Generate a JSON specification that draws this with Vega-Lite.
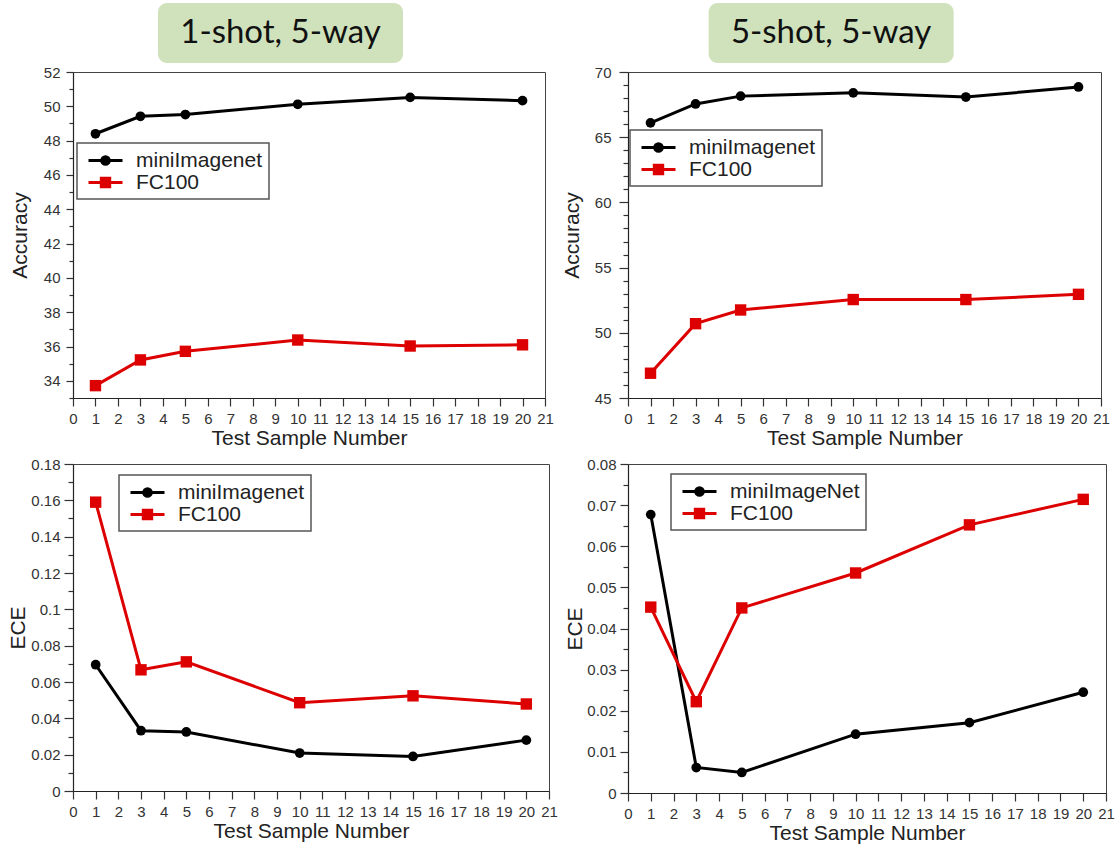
{
  "$schema": "https://vega.github.io/schema/vega-lite/v6.json",
  "background": "#ffffff",
  "padding": {"left": 7, "top": 3, "right": 1, "bottom": 1},
  "config": {
    "font": "Liberation Sans",
    "view": {"stroke": "#444444", "strokeWidth": 1},
    "axis": {
      "grid": false,
      "domainColor": "#222222",
      "domainWidth": 1.2,
      "tickColor": "#333333",
      "tickWidth": 1.2,
      "labelColor": "#333333",
      "labelFont": "Liberation Sans",
      "labelFontSize": 15,
      "titleFont": "Liberation Sans",
      "titleFontSize": 21,
      "titleFontWeight": "normal",
      "titleColor": "#222222",
      "labelFlush": false,
      "labelOverlap": false,
      "labelBound": false
    },
    "legend": {
      "labelFont": "Liberation Sans",
      "labelFontSize": 21,
      "labelColor": "#222222",
      "fillColor": "#ffffff",
      "strokeColor": "#555555",
      "padding": 6,
      "symbolSize": 400,
      "symbolStrokeWidth": 3,
      "symbolOffset": 11,
      "labelOffset": 19,
      "rowPadding": 0
    }
  },
  "datasets": {
    "t1": [{"title": "1-shot, 5-way"}],
    "t5": [{"title": "5-shot, 5-way"}],
    "acc1": [
      {"n": 1, "series": "miniImagenet", "v": 48.4},
      {"n": 3, "series": "miniImagenet", "v": 49.42},
      {"n": 5, "series": "miniImagenet", "v": 49.52},
      {"n": 10, "series": "miniImagenet", "v": 50.12},
      {"n": 15, "series": "miniImagenet", "v": 50.52},
      {"n": 20, "series": "miniImagenet", "v": 50.33},
      {"n": 1, "series": "FC100", "v": 33.72},
      {"n": 3, "series": "FC100", "v": 35.22},
      {"n": 5, "series": "FC100", "v": 35.72},
      {"n": 10, "series": "FC100", "v": 36.38},
      {"n": 15, "series": "FC100", "v": 36.03},
      {"n": 20, "series": "FC100", "v": 36.1}
    ],
    "acc5": [
      {"n": 1, "series": "miniImagenet", "v": 66.1},
      {"n": 3, "series": "miniImagenet", "v": 67.55},
      {"n": 5, "series": "miniImagenet", "v": 68.15},
      {"n": 10, "series": "miniImagenet", "v": 68.4},
      {"n": 15, "series": "miniImagenet", "v": 68.08},
      {"n": 20, "series": "miniImagenet", "v": 68.85},
      {"n": 1, "series": "FC100", "v": 46.9},
      {"n": 3, "series": "FC100", "v": 50.7},
      {"n": 5, "series": "FC100", "v": 51.75},
      {"n": 10, "series": "FC100", "v": 52.55},
      {"n": 15, "series": "FC100", "v": 52.55},
      {"n": 20, "series": "FC100", "v": 52.95}
    ],
    "ece1": [
      {"n": 1, "series": "miniImagenet", "v": 0.0695},
      {"n": 3, "series": "miniImagenet", "v": 0.0332},
      {"n": 5, "series": "miniImagenet", "v": 0.0325},
      {"n": 10, "series": "miniImagenet", "v": 0.0209},
      {"n": 15, "series": "miniImagenet", "v": 0.019},
      {"n": 20, "series": "miniImagenet", "v": 0.028},
      {"n": 1, "series": "FC100", "v": 0.159},
      {"n": 3, "series": "FC100", "v": 0.0667},
      {"n": 5, "series": "FC100", "v": 0.0711},
      {"n": 10, "series": "FC100", "v": 0.0486},
      {"n": 15, "series": "FC100", "v": 0.0524},
      {"n": 20, "series": "FC100", "v": 0.0479}
    ],
    "ece5": [
      {"n": 1, "series": "miniImageNet", "v": 0.0677},
      {"n": 3, "series": "miniImageNet", "v": 0.0062},
      {"n": 5, "series": "miniImageNet", "v": 0.005},
      {"n": 10, "series": "miniImageNet", "v": 0.0143},
      {"n": 15, "series": "miniImageNet", "v": 0.0171},
      {"n": 20, "series": "miniImageNet", "v": 0.0245},
      {"n": 1, "series": "FC100", "v": 0.0452},
      {"n": 3, "series": "FC100", "v": 0.0222},
      {"n": 5, "series": "FC100", "v": 0.045},
      {"n": 10, "series": "FC100", "v": 0.0535},
      {"n": 15, "series": "FC100", "v": 0.0652},
      {"n": 20, "series": "FC100", "v": 0.0714}
    ]
  },
  "hconcat": [
    {
      "vconcat": [
        {
          "data": {"name": "t1"},
          "width": 472,
          "height": 60,
          "view": {"stroke": null},
          "encoding": {"x": {"field": "title", "type": "nominal", "axis": null, "scale": {"paddingInner": 0, "paddingOuter": 0.4633, "align": 0.3744}}},
          "layer": [
            {"mark": {"type": "rect", "color": "#d0e2bc", "cornerRadius": 9}},
            {"mark": {"type": "text", "font": "Lato", "fontSize": 33, "color": "#111111"}, "encoding": {"text": {"field": "title", "type": "nominal"}}}
          ]
        },
        {
          "vconcat": [
            {
              "data": {"name": "acc1"},
              "width": 472,
              "height": 326,
              "encoding": {
                "x": {"field": "n", "type": "quantitative", "scale": {"domain": [0, 21], "nice": false},
                  "axis": {"values": [0,1,2,3,4,5,6,7,8,9,10,11,12,13,14,15,16,17,18,19,20,21], "format": "d", "title": "Test Sample Number", "tickSize": 8, "labelPadding": 5, "titlePadding": 1}},
                "y": {"field": "v", "type": "quantitative", "scale": {"domain": [33, 52], "nice": false, "zero": false},
                  "axis": {"values": [33,34,35,36,37,38,39,40,41,42,43,44,45,46,47,48,49,50,51,52], "format": "d", "title": "Accuracy",
                    "labelExpr": "datum.value % 2 === 0 ? datum.label : ''",
                    "tickSize": {"condition": {"test": "datum.value % 2 === 0", "value": 7}, "value": 4},
                    "labelPadding": 6, "titlePadding": 13}},
                "color": {"field": "series", "type": "nominal", "scale": {"domain": ["miniImagenet", "FC100"], "range": ["#000000", "#dd0000"]},
                  "legend": {"title": null, "orient": "none", "legendX": 4, "legendY": 71,
                    "encode": {
                      "symbols": {"update": {
                        "shape": {"signal": "datum.value === 'FC100' ? 'M-1.7,0H1.7M-0.42,-0.42H0.42V0.42H-0.42Z' : 'M-1.7,0H1.7M0.38,0A0.38,0.38,0,1,1,-0.38,0A0.38,0.38,0,1,1,0.38,0Z'"},
                        "fill": {"signal": "datum.value === 'FC100' ? '#dd0000' : '#000000'"},
                        "stroke": {"signal": "datum.value === 'FC100' ? '#dd0000' : '#000000'"},
                        "strokeWidth": {"value": 3},
                        "opacity": {"value": 1}}},
                      "legend": {"update": {"strokeWidth": {"value": 1.5}}}}}}
              },
              "layer": [
                {"mark": {"type": "line", "strokeWidth": 3}},
                {"transform": [{"filter": "datum.series === 'FC100'"}], "mark": {"type": "point", "shape": "square", "filled": true, "opacity": 1, "size": 130}},
                {"transform": [{"filter": "datum.series !== 'FC100'"}], "mark": {"type": "point", "shape": "circle", "filled": true, "opacity": 1, "size": 95}}
              ]
            },
            {
              "data": {"name": "ece1"},
              "width": 476,
              "height": 327,
              "encoding": {
                "x": {"field": "n", "type": "quantitative", "scale": {"domain": [0, 21], "nice": false},
                  "axis": {"values": [0,1,2,3,4,5,6,7,8,9,10,11,12,13,14,15,16,17,18,19,20,21], "format": "d", "title": "Test Sample Number", "tickSize": 8, "labelPadding": 5, "titlePadding": 1}},
                "y": {"field": "v", "type": "quantitative", "scale": {"domain": [0, 0.18], "nice": false, "zero": false},
                  "axis": {"values": [0,0.01,0.02,0.03,0.04,0.05,0.06,0.07,0.08,0.09,0.1,0.11,0.12,0.13,0.14,0.15,0.16,0.17,0.18], "format": ".2~f", "title": "ECE",
                    "labelExpr": "round(datum.value * 100) % 2 === 0 ? datum.label : ''",
                    "tickSize": {"condition": {"test": "round(datum.value * 100) % 2 === 0", "value": 9}, "value": 5},
                    "labelPadding": 4, "titlePadding": 2}},
                "color": {"field": "series", "type": "nominal", "scale": {"domain": ["miniImagenet", "FC100"], "range": ["#000000", "#dd0000"]},
                  "legend": {"title": null, "orient": "none", "legendX": 46, "legendY": 11,
                    "encode": {
                      "symbols": {"update": {
                        "shape": {"signal": "datum.value === 'FC100' ? 'M-1.7,0H1.7M-0.42,-0.42H0.42V0.42H-0.42Z' : 'M-1.7,0H1.7M0.38,0A0.38,0.38,0,1,1,-0.38,0A0.38,0.38,0,1,1,0.38,0Z'"},
                        "fill": {"signal": "datum.value === 'FC100' ? '#dd0000' : '#000000'"},
                        "stroke": {"signal": "datum.value === 'FC100' ? '#dd0000' : '#000000'"},
                        "strokeWidth": {"value": 3},
                        "opacity": {"value": 1}}},
                      "legend": {"update": {"strokeWidth": {"value": 1.5}}}}}}
              },
              "layer": [
                {"mark": {"type": "line", "strokeWidth": 3}},
                {"transform": [{"filter": "datum.series === 'FC100'"}], "mark": {"type": "point", "shape": "square", "filled": true, "opacity": 1, "size": 130}},
                {"transform": [{"filter": "datum.series !== 'FC100'"}], "mark": {"type": "point", "shape": "circle", "filled": true, "opacity": 1, "size": 95}}
              ]
            }
          ],
          "spacing": 7,
          "resolve": {"scale": {"x": "independent", "y": "independent", "color": "independent"}, "legend": {"color": "independent"}}
        }
      ],
      "spacing": 1,
      "resolve": {"scale": {"x": "independent", "y": "independent", "color": "independent"}, "legend": {"color": "independent"}}
    },
    {
      "vconcat": [
        {
          "data": {"name": "t5"},
          "width": 473,
          "height": 60,
          "view": {"stroke": null},
          "encoding": {"x": {"field": "title", "type": "nominal", "axis": null, "scale": {"paddingInner": 0, "paddingOuter": 0.4653, "align": 0.3537}}},
          "layer": [
            {"mark": {"type": "rect", "color": "#d0e2bc", "cornerRadius": 9}},
            {"mark": {"type": "text", "font": "Lato", "fontSize": 33, "color": "#111111"}, "encoding": {"text": {"field": "title", "type": "nominal"}}}
          ]
        },
        {
          "vconcat": [
            {
              "data": {"name": "acc5"},
              "width": 473,
              "height": 326,
              "encoding": {
                "x": {"field": "n", "type": "quantitative", "scale": {"domain": [0, 21], "nice": false},
                  "axis": {"values": [0,1,2,3,4,5,6,7,8,9,10,11,12,13,14,15,16,17,18,19,20,21], "format": "d", "title": "Test Sample Number", "tickSize": 8, "labelPadding": 5, "titlePadding": 1}},
                "y": {"field": "v", "type": "quantitative", "scale": {"domain": [45, 70], "nice": false, "zero": false},
                  "axis": {"values": [45,46,47,48,49,50,51,52,53,54,55,56,57,58,59,60,61,62,63,64,65,66,67,68,69,70], "format": "d", "title": "Accuracy",
                    "labelExpr": "datum.value % 5 === 0 ? datum.label : ''",
                    "tickSize": {"condition": {"test": "datum.value % 5 === 0", "value": 9}, "value": 5},
                    "labelPadding": 8, "titlePadding": 12}},
                "color": {"field": "series", "type": "nominal", "scale": {"domain": ["miniImagenet", "FC100"], "range": ["#000000", "#dd0000"]},
                  "legend": {"title": null, "orient": "none", "legendX": 2, "legendY": 58,
                    "encode": {
                      "symbols": {"update": {
                        "shape": {"signal": "datum.value === 'FC100' ? 'M-1.7,0H1.7M-0.42,-0.42H0.42V0.42H-0.42Z' : 'M-1.7,0H1.7M0.38,0A0.38,0.38,0,1,1,-0.38,0A0.38,0.38,0,1,1,0.38,0Z'"},
                        "fill": {"signal": "datum.value === 'FC100' ? '#dd0000' : '#000000'"},
                        "stroke": {"signal": "datum.value === 'FC100' ? '#dd0000' : '#000000'"},
                        "strokeWidth": {"value": 3},
                        "opacity": {"value": 1}}},
                      "legend": {"update": {"strokeWidth": {"value": 1.5}}}}}}
              },
              "layer": [
                {"mark": {"type": "line", "strokeWidth": 3}},
                {"transform": [{"filter": "datum.series === 'FC100'"}], "mark": {"type": "point", "shape": "square", "filled": true, "opacity": 1, "size": 130}},
                {"transform": [{"filter": "datum.series !== 'FC100'"}], "mark": {"type": "point", "shape": "circle", "filled": true, "opacity": 1, "size": 95}}
              ]
            },
            {
              "data": {"name": "ece5"},
              "width": 478,
              "height": 329,
              "encoding": {
                "x": {"field": "n", "type": "quantitative", "scale": {"domain": [0, 21], "nice": false},
                  "axis": {"values": [0,1,2,3,4,5,6,7,8,9,10,11,12,13,14,15,16,17,18,19,20,21], "format": "d", "title": "Test Sample Number", "tickSize": 8, "labelPadding": 5, "titlePadding": 1}},
                "y": {"field": "v", "type": "quantitative", "scale": {"domain": [0, 0.08], "nice": false, "zero": false},
                  "axis": {"values": [0,0.005,0.01,0.015,0.02,0.025,0.03,0.035,0.04,0.045,0.05,0.055,0.06,0.065,0.07,0.075,0.08], "format": ".3~f", "title": "ECE",
                    "labelExpr": "round(datum.value * 1000) % 10 === 0 ? datum.label : ''",
                    "tickSize": {"condition": {"test": "round(datum.value * 1000) % 10 === 0", "value": 8}, "value": 5},
                    "labelPadding": 4, "titlePadding": 1}},
                "color": {"field": "series", "type": "nominal", "scale": {"domain": ["miniImageNet", "FC100"], "range": ["#000000", "#dd0000"]},
                  "legend": {"title": null, "orient": "none", "legendX": 43, "legendY": 10,
                    "encode": {
                      "symbols": {"update": {
                        "shape": {"signal": "datum.value === 'FC100' ? 'M-1.7,0H1.7M-0.42,-0.42H0.42V0.42H-0.42Z' : 'M-1.7,0H1.7M0.38,0A0.38,0.38,0,1,1,-0.38,0A0.38,0.38,0,1,1,0.38,0Z'"},
                        "fill": {"signal": "datum.value === 'FC100' ? '#dd0000' : '#000000'"},
                        "stroke": {"signal": "datum.value === 'FC100' ? '#dd0000' : '#000000'"},
                        "strokeWidth": {"value": 3},
                        "opacity": {"value": 1}}},
                      "legend": {"update": {"strokeWidth": {"value": 1.5}}}}}}
              },
              "layer": [
                {"mark": {"type": "line", "strokeWidth": 3}},
                {"transform": [{"filter": "datum.series === 'FC100'"}], "mark": {"type": "point", "shape": "square", "filled": true, "opacity": 1, "size": 130}},
                {"transform": [{"filter": "datum.series !== 'FC100'"}], "mark": {"type": "point", "shape": "circle", "filled": true, "opacity": 1, "size": 95}}
              ]
            }
          ],
          "spacing": 7,
          "resolve": {"scale": {"x": "independent", "y": "independent", "color": "independent"}, "legend": {"color": "independent"}}
        }
      ],
      "spacing": 1,
      "resolve": {"scale": {"x": "independent", "y": "independent", "color": "independent"}, "legend": {"color": "independent"}}
    }
  ],
  "spacing": 2,
  "resolve": {"scale": {"x": "independent", "y": "independent", "color": "independent"}, "legend": {"color": "independent"}}
}
